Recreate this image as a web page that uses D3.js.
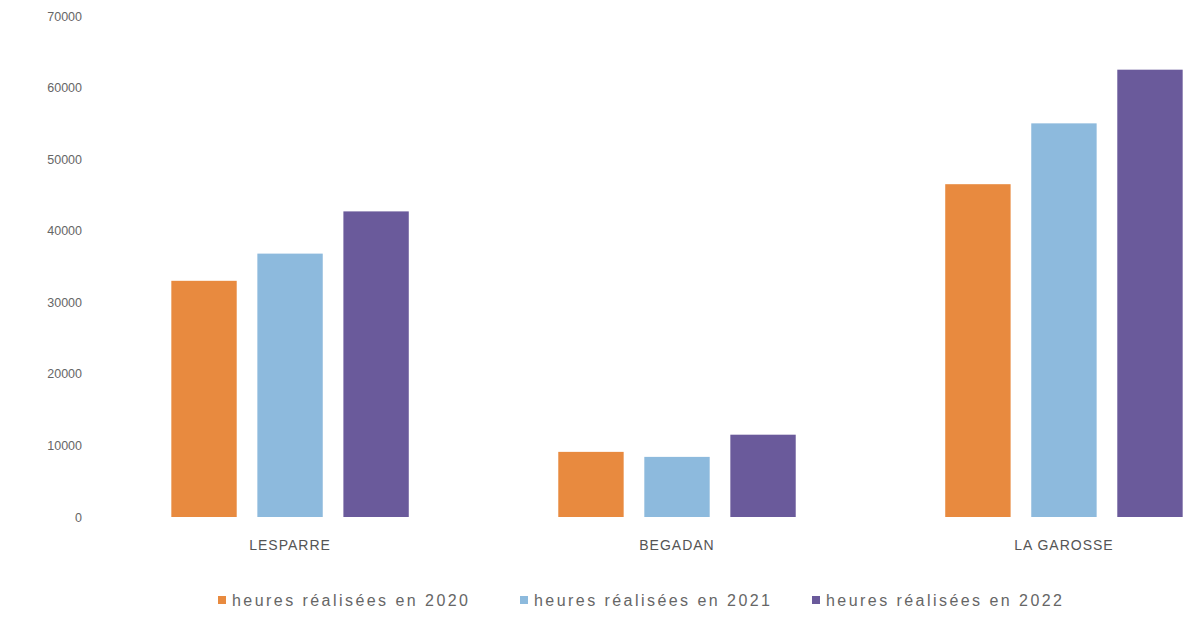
<!DOCTYPE html>
<html><head><meta charset="utf-8">
<script src="https://cdn.jsdelivr.net/npm/d3@7"></script>
<style>body{margin:0;background:#fff}svg{display:block}</style>
</head><body>
<script>
const categories = ["LESPARRE", "BEGADAN", "LA GAROSSE"];
const seriesNames = ["heures réalisées en 2020", "heures réalisées en 2021", "heures réalisées en 2022"];
const values2020 = [33000, 9100, 46500];
const values2021 = [36800, 8400, 55000];
const values2022 = [42700, 11500, 62500];
const yTicks = [0, 10000, 20000, 30000, 40000, 50000, 60000, 70000];
const colors = ["#E88A3F", "#8DBADD", "#6A5A9B"];

const W = 1190, H = 623;
const svg = d3.select("body").append("svg").attr("width", W).attr("height", H);
const series = [values2020, values2021, values2022];

const y = d3.scaleLinear().domain([0, 70000]).range([517, 16]);
const x0 = d3.scaleBand().domain(categories).range([96.5, 1257.5]).paddingInner(0.333).paddingOuter(0.1667);
const x1 = d3.scaleBand().domain(seriesNames).range([0, x0.bandwidth()]).paddingInner(0.24).paddingOuter(0.12);

// y axis
const yAxis = d3.axisLeft(y).tickValues(yTicks).tickSize(0).tickPadding(0).tickFormat(d3.format("d"));
const ga = svg.append("g").attr("transform", "translate(82,0)").call(yAxis);
ga.select(".domain").remove();
ga.selectAll("text").attr("font-family", "Liberation Sans, Arial, sans-serif").attr("font-size", 12.5).attr("fill", "#666");

// bars
const g = svg.append("g");
categories.forEach((c, i) => {
  series.forEach((s, j) => {
    g.append("rect")
      .attr("x", x0(c) + x1(seriesNames[j]))
      .attr("y", y(s[i]))
      .attr("width", x1.bandwidth())
      .attr("height", y(0) - y(s[i]))
      .attr("fill", colors[j]);
  });
});

// x axis labels
const xAxis = d3.axisBottom(x0).tickSize(0).tickPadding(0);
const gx = svg.append("g").attr("transform", "translate(0,540)").call(xAxis);
gx.select(".domain").remove();
gx.selectAll("text").attr("font-family", "Liberation Sans Narrow, Liberation Sans, sans-serif").attr("font-size", 14).attr("fill", "#555").attr("dy", "0.7em").attr("letter-spacing", 1);

// legend
const legX = [218, 520, 812];
const leg = svg.append("g");
seriesNames.forEach((n, j) => {
  const lg = leg.append("g").attr("transform", `translate(${legX[j]},600)`);
  lg.append("rect").attr("x", 0).attr("y", -4).attr("width", 8).attr("height", 8).attr("fill", colors[j]);
  lg.append("text").attr("x", 14).attr("y", 0).attr("dy", "0.35em")
    .attr("font-family", "Liberation Sans Narrow, Liberation Sans, sans-serif").attr("font-size", 16).attr("fill", "#666")
    .attr("textLength", 236).attr("lengthAdjust", "spacing").text(n);
});
</script>
</body></html>
